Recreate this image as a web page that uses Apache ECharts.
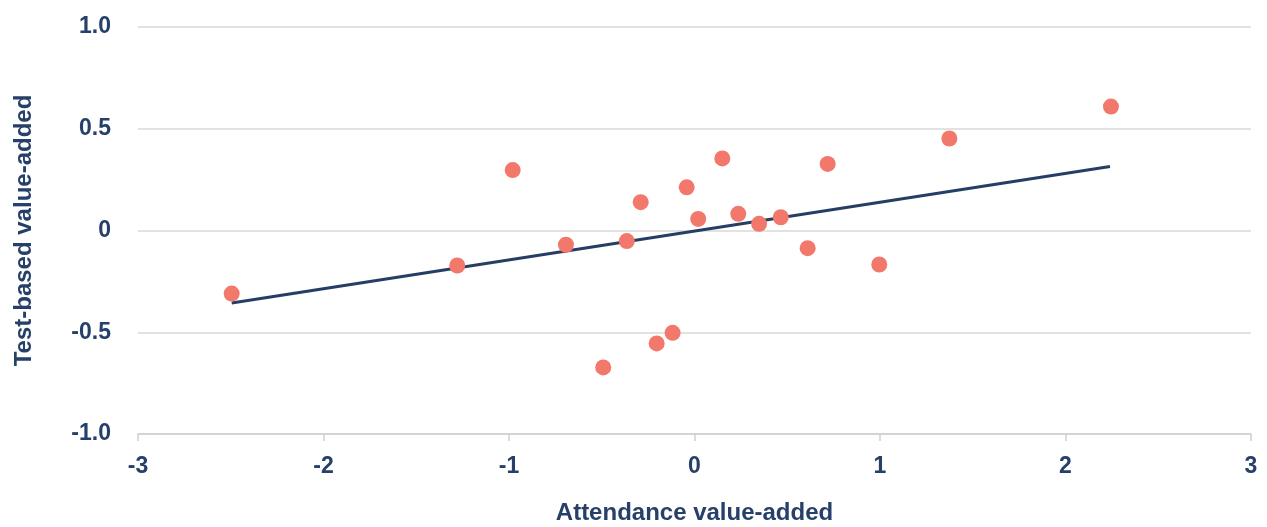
<!DOCTYPE html>
<html>
<head>
<meta charset="utf-8">
<script src="https://cdn.jsdelivr.net/npm/echarts@6/dist/echarts.min.js"></script>
<style>html,body{margin:0;padding:0;background:#fff}#c{width:1267px;height:527px}</style>
</head>
<body>
<div id="c"></div>
<script>
const attendanceVA = [-2.495, -1.279, -0.98, -0.693, -0.492, -0.365, -0.29, -0.204, -0.118, -0.042, 0.02, 0.15, 0.236, 0.348, 0.465, 0.61, 0.718, 0.996, 1.374, 2.245];
const testVA =       [-0.31, -0.172, 0.297, -0.07, -0.673, -0.052, 0.139, -0.555, -0.503, 0.212, 0.057, 0.354, 0.082, 0.033, 0.065, -0.087, 0.327, -0.167, 0.452, 0.609];
const trendX = [-2.495, 2.24];
const trendY = [-0.356, 0.314];
const yTickLabels = {'1': '1.0', '0.5': '0.5', '0': '0', '-0.5': '-0.5', '-1': '-1.0'};

const textColor = '#26406a';
const font = 'Liberation Sans';

const chart = echarts.init(document.getElementById('c'), null, {renderer: 'canvas'});
chart.setOption({
  animation: false,
  grid: {left: 138, right: 16, top: 27, bottom: 93, containLabel: false, outerBoundsMode: 'none'},
  xAxis: {
    type: 'value', min: -3, max: 3, interval: 1,
    name: 'Attendance value-added', nameLocation: 'middle', nameGap: 67,
    nameTextStyle: {color: textColor, fontFamily: font, fontWeight: 'bold', fontSize: 24},
    axisLine: {show: true, onZero: false, lineStyle: {color: '#cfcfcf', width: 1.5}},
    axisTick: {show: true, length: 7, lineStyle: {color: '#cfcfcf', width: 1.5}},
    axisLabel: {color: textColor, fontFamily: font, fontWeight: 'bold', fontSize: 23, margin: 21},
    splitLine: {show: false}
  },
  yAxis: {
    type: 'value', min: -1, max: 1, interval: 0.5,
    name: 'Test-based value-added', nameLocation: 'middle', nameGap: 102,
    nameTextStyle: {color: textColor, fontFamily: font, fontWeight: 'bold', fontSize: 24},
    axisLine: {show: false}, axisTick: {show: false},
    axisLabel: {color: textColor, fontFamily: font, fontWeight: 'bold', fontSize: 23, margin: 27,
      formatter: v => yTickLabels[String(v)] !== undefined ? yTickLabels[String(v)] : String(v)},
    splitLine: {show: true, lineStyle: {color: '#d9d9d9', width: 1.5}}
  },
  series: [
    {
      type: 'line', data: trendX.map((x, i) => [x, trendY[i]]),
      symbol: 'none', lineStyle: {color: '#263e64', width: 3}, z: 2
    },
    {
      type: 'scatter', data: attendanceVA.map((x, i) => [x, testVA[i]]),
      symbolSize: 16, itemStyle: {color: '#f2786b', opacity: 1}, z: 3
    }
  ]
});
</script>
</body>
</html>
